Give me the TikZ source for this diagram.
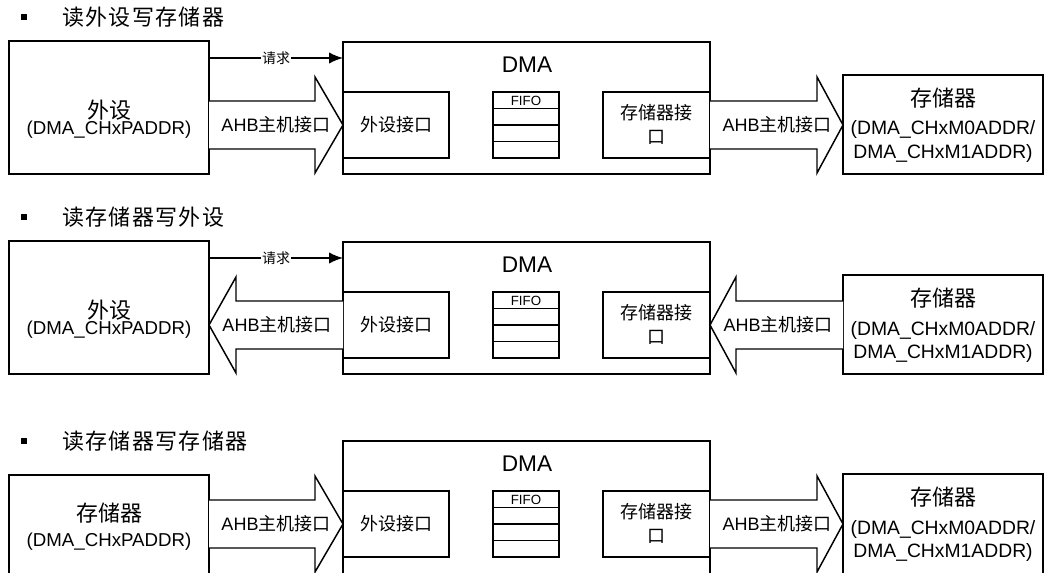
\documentclass[tikz,border=0pt]{standalone}
\usepackage{fontspec}
\setmainfont{Liberation Sans}
\newfontfamily\cjk{Noto Sans CJK SC}
\newfontfamily\cjktitle[LetterSpace=6]{Noto Sans CJK SC}
\usetikzlibrary{fit,arrows.meta}
\tikzset{
  box/.style={draw, line width=1.1pt, inner sep=0pt, outer sep=0pt},
  bigarrow/.style={draw, line width=1.1pt, fill=white, line join=miter},
  reqarrow/.style={line width=1.1pt, -{Latex[length=10.5pt,width=8.5pt]}},
  reqlabel/.style={fill=white, inner sep=1pt, font=\fontsize{10.5}{12}\selectfont\cjk},
  title/.style={anchor=west, inner sep=0pt, font=\fontsize{16.5}{20}\selectfont\cjktitle},
  bullet/.style={fill=black, draw=none},
  ahb/.style={inner sep=0pt, font=\fontsize{13.5}{16}\selectfont},
  dmatext/.style={inner sep=0pt, font=\fontsize{17}{20}\selectfont},
  iftext/.style={inner sep=0pt, align=center, font=\fontsize{13.5}{18}\selectfont\cjk},
  fifotext/.style={inner sep=0pt, font=\fontsize{10}{12}\selectfont},
  head/.style={inner sep=0pt, font=\fontsize{16.5}{20}\selectfont\cjk},
  addrL/.style={inner sep=0pt, font=\fontsize{14}{17}\selectfont},
  addrR/.style={inner sep=0pt, align=center, font=\fontsize{14.5}{17.25}\selectfont},
}
% #1 = suffix, #2 = bottom y of the DMA box and the right box
\newcommand\dmablock[2]{%
  \node[box, fit={(343,42) (710,#2)}] (dma#1) {};
  \node[dmatext] (dmat#1) at (527,65) {DMA};
  \node[box, fit={(343,92) (449,158)}] (pif#1) {};
  \node[iftext] (pift#1) at (pif#1.center) {外设接口};
  \node[box, fit={(493,92) (559,158)}] (fifo#1) {};
  \draw[line width=1.1pt] (493,108.5) -- (559,108.5) (493,125) -- (559,125) (493,141.5) -- (559,141.5);
  \node[fifotext] (fifot#1) at (526,100.5) {FIFO};
  \node[box, fit={(603,92) (710,158)}] (mif#1) {};
  \node[iftext] (mift#1) at (656.5,124) {存储器接\\口};
  \node[box, fit={(843,75) (1043,#2)}] (R#1) {};
  \node[head] (Rh#1) at (943,98) {存储器};
  \node[addrR] (Ra#1) at (943,141.5) {(DMA\_CHxM0ADDR/\\DMA\_CHxM1ADDR)};
}
\begin{document}
\begin{tikzpicture}[x=0.75pt,y=-0.75pt]
\useasboundingbox (0,0) rectangle (1044,573);
\clip (0,0) rectangle (1044,573);

% ---------- section 1 ----------
\begin{scope}
  \fill[bullet] (21,14) rectangle (27,20);
  \node[title] (t1) at (62,17.5) {读外设写存储器};
  \dmablock{1}{174}
  \node[box, fit={(9,41) (209,174)}] (L1) {};
  \node[head] (Lh1) at (109,110) {外设};
  \node[addrL] (La1) at (109,130) {(DMA\_CHxPADDR)};
  \draw[reqarrow] (L1.east |- 0,58) -- node[reqlabel] (rq1) {请求} (dma1.west |- 0,58);
  \draw[bigarrow] (209,101) -| (315,77) -- (343,125) -- (315,173) |- (209,149);
  \node[ahb] (a1l) at (276,125) {AHB{\cjk 主机接口}};
  \draw[bigarrow] (710,101) -| (817,77) -- (843,125) -- (817,173) |- (710,149);
  \node[ahb] (a1r) at (777,125) {AHB{\cjk 主机接口}};
\end{scope}

% ---------- section 2 ----------
\begin{scope}[shift={(0,200)}]
  \fill[bullet] (21,14) rectangle (27,20);
  \node[title] (t2) at (62,17.5) {读存储器写外设};
  \dmablock{2}{174}
  \node[box, fit={(9,41) (209,174)}] (L2) {};
  \node[head] (Lh2) at (109,110) {外设};
  \node[addrL] (La2) at (109,130) {(DMA\_CHxPADDR)};
  \draw[reqarrow] (L2.east |- 0,58) -- node[reqlabel] (rq2) {请求} (dma2.west |- 0,58);
  \draw[bigarrow] (343,101) -| (236,77) -- (209,125) -- (236,173) |- (343,149);
  \node[ahb] (a2l) at (277,125) {AHB{\cjk 主机接口}};
  \draw[bigarrow] (843,101) -| (736,77) -- (710,125) -- (736,173) |- (843,149);
  \node[ahb] (a2r) at (778,125) {AHB{\cjk 主机接口}};
\end{scope}

% ---------- section 3 ----------
\begin{scope}[shift={(0,399)}]
  \fill[bullet] (21,39) rectangle (27,45);
  \node[title] (t3) at (62,42) {读存储器写存储器};
  \dmablock{3}{190}
  \node[box, fit={(9,76) (209,190)}] (L3) {};
  \node[head] (Lh3) at (109,114) {存储器};
  \node[addrL] (La3) at (109,143) {(DMA\_CHxPADDR)};
  \draw[bigarrow] (209,101) -| (315,77) -- (343,125) -- (315,173) |- (209,149);
  \node[ahb] (a3l) at (276,125) {AHB{\cjk 主机接口}};
  \draw[bigarrow] (710,101) -| (817,77) -- (843,125) -- (817,173) |- (710,149);
  \node[ahb] (a3r) at (777,125) {AHB{\cjk 主机接口}};
\end{scope}
\end{tikzpicture}
\end{document}
